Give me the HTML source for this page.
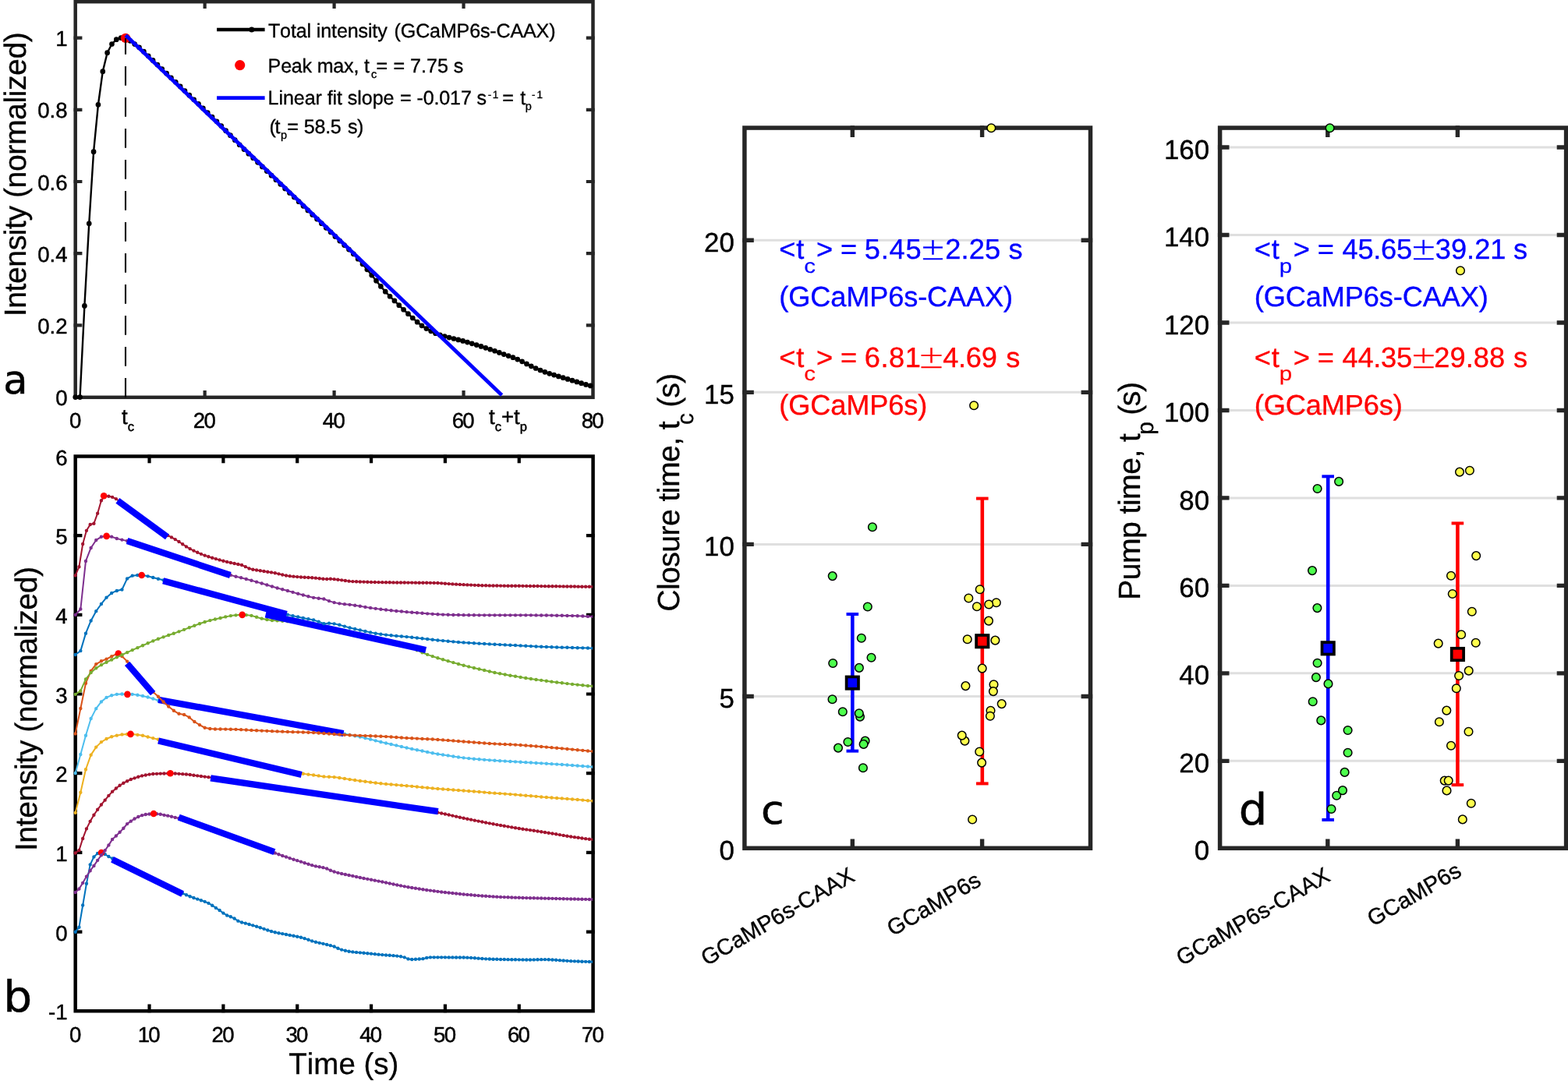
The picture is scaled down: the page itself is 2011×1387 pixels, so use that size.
<!DOCTYPE html>
<html lang="en">
<head>
<meta charset="utf-8">
<title>Intensity traces, closure time and pump time</title>
<style>
html,body{margin:0;padding:0;background:#fff;}
body{width:2011px;height:1387px;overflow:hidden;}
svg{display:block;font-family:'Liberation Sans', Arial, Helvetica, sans-serif;}
text{white-space:pre;font-kerning:none;}
</style>
</head>
<body>
<svg width="2011" height="1387" viewBox="0 0 2011 1387" text-rendering="geometricPrecision">
<rect x="0" y="0" width="2011" height="1387" fill="#fff"/>
<g id="panel-a">
<rect x="96.7" y="2.2" width="663.8" height="507.6" fill="none" stroke="#262626" stroke-width="4.5"/>
<path d="M262.65,509.8v-6.6M262.65,2.2v6.6M428.6,509.8v-6.6M428.6,2.2v6.6M594.55,509.8v-6.6M594.55,2.2v6.6M96.7,417.4h6.6M760.5,417.4h-6.6M96.7,325.2h6.6M760.5,325.2h-6.6M96.7,233h6.6M760.5,233h-6.6M96.7,140.8h6.6M760.5,140.8h-6.6M96.7,48.6h6.6M760.5,48.6h-6.6" fill="none" stroke="#262626" stroke-width="4.2" stroke-linecap="square"/>
<g id="a-data">
<path d="M96.7,509.6 L102.55,509.6 L108.39,392.46 L114.24,286.86 L120.08,194.69 L125.93,134.28 L131.78,91.65 L137.62,67.72 L143.47,56.49 L149.31,50.71 L155.16,48.6 L161.01,48.89 L166.85,52.31 L172.7,56.6 L178.54,60.84 L184.39,66.15 L190.24,71.79 L196.08,77.38 L201.93,82.98 L207.77,88.57 L213.62,94.17 L219.47,99.76 L225.31,105.35 L231.16,110.95 L237,116.54 L242.85,122.14 L248.7,127.73 L254.54,133.33 L260.39,138.92 L266.23,144.52 L272.08,150.11 L277.92,155.73 L283.77,161.57 L289.62,167.63 L295.46,173.68 L301.31,179.72 L307.15,185.75 L313,191.59 L318.85,197.17 L324.69,202.76 L330.54,208.36 L336.38,213.95 L342.23,219.55 L348.08,225.14 L353.92,230.74 L359.77,236.33 L365.61,241.92 L371.46,247.52 L377.31,253.11 L383.15,258.71 L389,264.3 L394.84,269.9 L400.69,275.49 L406.54,281.09 L412.38,286.68 L418.23,292.28 L424.07,297.87 L429.92,303.47 L435.77,309.07 L441.61,314.61 L447.46,320.05 L453.3,325.85 L459.15,332.16 L465,338.79 L470.84,345.86 L476.69,353.05 L482.53,360.21 L488.38,367.39 L494.23,374.17 L500.07,380.25 L505.92,385.95 L511.76,391.64 L517.61,397.26 L523.46,402.68 L529.3,408 L535.15,413.21 L540.99,417.78 L546.84,421.55 L552.69,424.87 L558.53,427.63 L564.38,429.79 L570.22,431.56 L576.07,433.11 L581.92,434.51 L587.76,435.89 L593.61,437.38 L599.45,439.04 L605.3,440.81 L611.14,442.62 L616.99,444.44 L622.84,446.3 L628.68,448.23 L634.53,450.27 L640.37,452.39 L646.22,454.54 L652.07,456.62 L657.91,458.71 L663.76,461.03 L669.6,463.82 L675.45,466.89 L681.3,469.8 L687.14,472.48 L692.99,475.02 L698.83,477.31 L704.68,479.3 L710.53,481.11 L716.37,482.9 L722.22,484.67 L728.06,486.41 L733.91,488.16 L739.76,489.94 L745.6,491.71 L751.45,493.4 L757.29,494.96" fill="none" stroke="#000" stroke-width="2.4" stroke-linejoin="round"/>
<path d="M96.7,509.6h0M102.55,509.6h0M108.39,392.46h0M114.24,286.86h0M120.08,194.69h0M125.93,134.28h0M131.78,91.65h0M137.62,67.72h0M143.47,56.49h0M149.31,50.71h0M155.16,48.6h0M161.01,48.89h0M166.85,52.31h0M172.7,56.6h0M178.54,60.84h0M184.39,66.15h0M190.24,71.79h0M196.08,77.38h0M201.93,82.98h0M207.77,88.57h0M213.62,94.17h0M219.47,99.76h0M225.31,105.35h0M231.16,110.95h0M237,116.54h0M242.85,122.14h0M248.7,127.73h0M254.54,133.33h0M260.39,138.92h0M266.23,144.52h0M272.08,150.11h0M277.92,155.73h0M283.77,161.57h0M289.62,167.63h0M295.46,173.68h0M301.31,179.72h0M307.15,185.75h0M313,191.59h0M318.85,197.17h0M324.69,202.76h0M330.54,208.36h0M336.38,213.95h0M342.23,219.55h0M348.08,225.14h0M353.92,230.74h0M359.77,236.33h0M365.61,241.92h0M371.46,247.52h0M377.31,253.11h0M383.15,258.71h0M389,264.3h0M394.84,269.9h0M400.69,275.49h0M406.54,281.09h0M412.38,286.68h0M418.23,292.28h0M424.07,297.87h0M429.92,303.47h0M435.77,309.07h0M441.61,314.61h0M447.46,320.05h0M453.3,325.85h0M459.15,332.16h0M465,338.79h0M470.84,345.86h0M476.69,353.05h0M482.53,360.21h0M488.38,367.39h0M494.23,374.17h0M500.07,380.25h0M505.92,385.95h0M511.76,391.64h0M517.61,397.26h0M523.46,402.68h0M529.3,408h0M535.15,413.21h0M540.99,417.78h0M546.84,421.55h0M552.69,424.87h0M558.53,427.63h0M564.38,429.79h0M570.22,431.56h0M576.07,433.11h0M581.92,434.51h0M587.76,435.89h0M593.61,437.38h0M599.45,439.04h0M605.3,440.81h0M611.14,442.62h0M616.99,444.44h0M622.84,446.3h0M628.68,448.23h0M634.53,450.27h0M640.37,452.39h0M646.22,454.54h0M652.07,456.62h0M657.91,458.71h0M663.76,461.03h0M669.6,463.82h0M675.45,466.89h0M681.3,469.8h0M687.14,472.48h0M692.99,475.02h0M698.83,477.31h0M704.68,479.3h0M710.53,481.11h0M716.37,482.9h0M722.22,484.67h0M728.06,486.41h0M733.91,488.16h0M739.76,489.94h0M745.6,491.71h0M751.45,493.4h0M757.29,494.96h0" fill="none" stroke="#000" stroke-width="6.7" stroke-linecap="round"/>
<circle cx="161.1" cy="48.9" r="6.25" fill="#f00"/>
<path d="M161,509.7V48.9" fill="none" stroke="#000" stroke-width="2.1" stroke-dasharray="24.7 15.3"/>
<line x1="161.2" y1="45.3" x2="643.6" y2="506.96" stroke="#00f" stroke-width="4.8" stroke-linecap="butt"/>
</g>
<g id="a-ticks" font-size="27.6" stroke="#000" stroke-width="0.45">
<text x="86.6" y="520.2" text-anchor="end">0</text>
<text x="86.6" y="428" text-anchor="end">0.2</text>
<text x="86.6" y="335.8" text-anchor="end">0.4</text>
<text x="86.6" y="243.6" text-anchor="end">0.6</text>
<text x="86.6" y="151.4" text-anchor="end">0.8</text>
<text x="86.6" y="59.2" text-anchor="end">1</text>
<text x="96.7" y="548.8" text-anchor="middle">0</text>
<text x="261.45" y="548.8" text-anchor="middle" letter-spacing="-1.7">20</text>
<text x="427.4" y="548.8" text-anchor="middle" letter-spacing="-1.7">40</text>
<text x="593.35" y="548.8" text-anchor="middle" letter-spacing="-1.7">60</text>
<text x="759.3" y="548.8" text-anchor="middle" letter-spacing="-1.7">80</text>
<text x="156" y="543.8">t<tspan font-size="16.6" dy="8.8">c</tspan></text>
<text x="627" y="543.8">t<tspan font-size="16.6" dy="8.8">c</tspan><tspan dy="-8.8">+t</tspan><tspan font-size="16.6" dy="8.8">p</tspan></text>
</g>
<text transform="translate(33,0) rotate(-90)" font-size="39.3" stroke="#000" stroke-width="0.3"><tspan x="-406.27" letter-spacing="-0.5">Intensity (normalized)</tspan></text>
<g id="a-legend" font-size="25.1" stroke-width="0.35">
<line x1="278.1" y1="38" x2="339.6" y2="38" stroke="#000" stroke-width="4.7" stroke-linecap="butt"/>
<circle cx="322.8" cy="38" r="3.5" fill="#000"/>
<circle cx="307.7" cy="83.6" r="6.6" fill="#f00"/>
<line x1="278.1" y1="125.6" x2="339.6" y2="125.6" stroke="#00f" stroke-width="4.7" stroke-linecap="butt"/>
<text y="48.3" stroke="#000"><tspan x="343.9" letter-spacing="-0.12">Total </tspan><tspan x="405.82" letter-spacing="-0.14">intensity </tspan><tspan x="505.61" letter-spacing="-0.17">(GCaMP6s-CAAX)</tspan></text>
<text y="93.1" stroke="#000"><tspan x="343.62" letter-spacing="-0.22">Peak max, t</tspan><tspan x="475.95" dy="7.3" font-size="14.5">c</tspan><tspan x="482.61" dy="-7.3">= </tspan><tspan x="504.51" letter-spacing="-0.02">= 7.75 s</tspan></text>
<text y="133.7" stroke="#000"><tspan x="343.62" letter-spacing="-0.09">Linear fit slope </tspan><tspan x="513.11" letter-spacing="-0.15">= -0.017 s</tspan><tspan x="625.68" dy="-7.7" letter-spacing="1.63" font-size="13.5">-1 </tspan><tspan x="644.31" dy="7.7">= </tspan><tspan x="667.2">t</tspan><tspan x="673.69" dy="7.3" font-size="14.5">p </tspan><tspan x="681.98" dy="-15" letter-spacing="2.03" font-size="13.5">-1</tspan></text>
<text y="171" stroke="#000"><tspan x="345.61" letter-spacing="-1.35">(t</tspan><tspan x="359.89" dy="7.3" font-size="14.5">p</tspan><tspan x="368.31" dy="-7.3">= </tspan><tspan x="389.81" letter-spacing="-0.28">58.5 </tspan><tspan x="446.1" letter-spacing="-0.67">s)</tspan></text>
</g>
<text transform="translate(4.2,505.4) scale(1.05,0.94)" font-size="54" font-family="'DejaVu Sans Condensed', 'DejaVu Sans', sans-serif" stroke="#000" stroke-width="0.5">a</text>
</g>
<g id="panel-b">
<rect x="96.7" y="585.5" width="663.9" height="711.7" fill="none" stroke="#000" stroke-width="4.5"/>
<path d="M191.54,1297.2v-6.6M191.54,585.5v6.6M286.39,1297.2v-6.6M286.39,585.5v6.6M381.23,1297.2v-6.6M381.23,585.5v6.6M476.07,1297.2v-6.6M476.07,585.5v6.6M570.91,1297.2v-6.6M570.91,585.5v6.6M665.76,1297.2v-6.6M665.76,585.5v6.6M96.7,1195.53h6.6M760.6,1195.53h-6.6M96.7,1093.86h6.6M760.6,1093.86h-6.6M96.7,992.19h6.6M760.6,992.19h-6.6M96.7,890.51h6.6M760.6,890.51h-6.6M96.7,788.84h6.6M760.6,788.84h-6.6M96.7,687.17h6.6M760.6,687.17h-6.6" fill="none" stroke="#000" stroke-width="4.2" stroke-linecap="square"/>
<clipPath id="bclip"><rect x="90" y="580" width="669.9" height="722"/></clipPath>
<g id="b-data" clip-path="url(#bclip)">
<path d="M96.7,1195.78 L101.44,1189.68 L106.18,1161.46 L110.93,1133.77 L115.67,1109.37 L120.41,1099.41 L125.15,1095.06 L129.89,1093.97 L134.64,1096.01 L139.38,1099.05 L144.12,1101.54 L148.86,1104.37 L153.61,1107.31 L158.35,1109.84 L163.09,1112.13 L167.83,1114.43 L172.57,1116.76 L177.32,1119.09 L182.06,1121.43 L186.8,1123.76 L191.54,1126.1 L196.28,1128.43 L201.03,1130.77 L205.77,1133.1 L210.51,1135.44 L215.25,1137.8 L220,1140.17 L224.74,1142.34 L229.48,1144.32 L234.22,1146.24 L238.96,1148.23 L243.71,1150.25 L248.45,1152.05 L253.19,1153.58 L257.93,1155.18 L262.67,1156.86 L267.42,1158.83 L272.16,1161.68 L276.9,1164.9 L281.64,1168.07 L286.39,1171.61 L291.13,1174.5 L295.87,1176.29 L300.61,1178.5 L305.35,1181.65 L310.1,1183.51 L314.84,1184.63 L319.58,1185.93 L324.32,1187.34 L329.06,1188.79 L333.81,1190.26 L338.55,1191.83 L343.29,1193.45 L348.03,1194.96 L352.78,1196.19 L357.52,1197.19 L362.26,1198.09 L367,1198.98 L371.74,1199.9 L376.49,1200.78 L381.23,1201.7 L385.97,1202.77 L390.71,1204.16 L395.45,1205.79 L400.2,1207.4 L404.94,1208.74 L409.68,1209.84 L414.42,1210.86 L419.17,1211.94 L423.91,1213.15 L428.65,1214.56 L433.39,1216.72 L438.13,1218.62 L442.88,1219.81 L447.62,1220.72 L452.36,1221.39 L457.1,1221.91 L461.84,1222.35 L466.59,1222.76 L471.33,1223.19 L476.07,1223.67 L480.81,1224.16 L485.56,1224.64 L490.3,1225.08 L495.04,1225.46 L499.78,1225.8 L504.52,1226.16 L509.27,1226.62 L514.01,1227.28 L518.75,1228.37 L523.49,1230.4 L528.23,1230.93 L532.98,1230.79 L537.72,1230.54 L542.46,1230.17 L547.2,1228.89 L551.95,1228.33 L556.69,1228.33 L561.43,1228.34 L566.17,1228.35 L570.91,1228.37 L575.66,1228.39 L580.4,1228.41 L585.14,1228.44 L589.88,1228.47 L594.62,1228.51 L599.37,1228.65 L604.11,1228.91 L608.85,1229.26 L613.59,1229.64 L618.34,1230.01 L623.08,1230.34 L627.82,1230.56 L632.56,1230.69 L637.3,1230.81 L642.05,1230.93 L646.79,1231.04 L651.53,1231.14 L656.27,1231.23 L661.01,1231.3 L665.76,1231.37 L670.5,1231.42 L675.24,1231.45 L679.98,1231.46 L684.73,1231.42 L689.47,1231.3 L694.21,1231.17 L698.95,1231.11 L703.69,1231.21 L708.44,1231.44 L713.18,1231.76 L717.92,1232.13 L722.66,1232.52 L727.4,1232.87 L732.15,1233.15 L736.89,1233.35 L741.63,1233.54 L746.37,1233.72 L751.12,1233.87 L755.86,1234.01 L760.6,1234.07" fill="none" stroke="#0072bd" stroke-width="2" stroke-linejoin="round"/>
<path d="M96.7,1195.78h0M101.44,1189.68h0M106.18,1161.46h0M110.93,1133.77h0M115.67,1109.37h0M120.41,1099.41h0M125.15,1095.06h0M129.89,1093.97h0M134.64,1096.01h0M139.38,1099.05h0M144.12,1101.54h0M148.86,1104.37h0M153.61,1107.31h0M158.35,1109.84h0M163.09,1112.13h0M167.83,1114.43h0M172.57,1116.76h0M177.32,1119.09h0M182.06,1121.43h0M186.8,1123.76h0M191.54,1126.1h0M196.28,1128.43h0M201.03,1130.77h0M205.77,1133.1h0M210.51,1135.44h0M215.25,1137.8h0M220,1140.17h0M224.74,1142.34h0M229.48,1144.32h0M234.22,1146.24h0M238.96,1148.23h0M243.71,1150.25h0M248.45,1152.05h0M253.19,1153.58h0M257.93,1155.18h0M262.67,1156.86h0M267.42,1158.83h0M272.16,1161.68h0M276.9,1164.9h0M281.64,1168.07h0M286.39,1171.61h0M291.13,1174.5h0M295.87,1176.29h0M300.61,1178.5h0M305.35,1181.65h0M310.1,1183.51h0M314.84,1184.63h0M319.58,1185.93h0M324.32,1187.34h0M329.06,1188.79h0M333.81,1190.26h0M338.55,1191.83h0M343.29,1193.45h0M348.03,1194.96h0M352.78,1196.19h0M357.52,1197.19h0M362.26,1198.09h0M367,1198.98h0M371.74,1199.9h0M376.49,1200.78h0M381.23,1201.7h0M385.97,1202.77h0M390.71,1204.16h0M395.45,1205.79h0M400.2,1207.4h0M404.94,1208.74h0M409.68,1209.84h0M414.42,1210.86h0M419.17,1211.94h0M423.91,1213.15h0M428.65,1214.56h0M433.39,1216.72h0M438.13,1218.62h0M442.88,1219.81h0M447.62,1220.72h0M452.36,1221.39h0M457.1,1221.91h0M461.84,1222.35h0M466.59,1222.76h0M471.33,1223.19h0M476.07,1223.67h0M480.81,1224.16h0M485.56,1224.64h0M490.3,1225.08h0M495.04,1225.46h0M499.78,1225.8h0M504.52,1226.16h0M509.27,1226.62h0M514.01,1227.28h0M518.75,1228.37h0M523.49,1230.4h0M528.23,1230.93h0M532.98,1230.79h0M537.72,1230.54h0M542.46,1230.17h0M547.2,1228.89h0M551.95,1228.33h0M556.69,1228.33h0M561.43,1228.34h0M566.17,1228.35h0M570.91,1228.37h0M575.66,1228.39h0M580.4,1228.41h0M585.14,1228.44h0M589.88,1228.47h0M594.62,1228.51h0M599.37,1228.65h0M604.11,1228.91h0M608.85,1229.26h0M613.59,1229.64h0M618.34,1230.01h0M623.08,1230.34h0M627.82,1230.56h0M632.56,1230.69h0M637.3,1230.81h0M642.05,1230.93h0M646.79,1231.04h0M651.53,1231.14h0M656.27,1231.23h0M661.01,1231.3h0M665.76,1231.37h0M670.5,1231.42h0M675.24,1231.45h0M679.98,1231.46h0M684.73,1231.42h0M689.47,1231.3h0M694.21,1231.17h0M698.95,1231.11h0M703.69,1231.21h0M708.44,1231.44h0M713.18,1231.76h0M717.92,1232.13h0M722.66,1232.52h0M727.4,1232.87h0M732.15,1233.15h0M736.89,1233.35h0M741.63,1233.54h0M746.37,1233.72h0M751.12,1233.87h0M755.86,1234.01h0M760.6,1234.07h0" fill="none" stroke="#0072bd" stroke-width="4.4" stroke-linecap="round"/>
<circle cx="130.03" cy="1093.97" r="4.3" fill="#f00"/>
<line x1="143.95" y1="1102.67" x2="234.11" y2="1147.05" stroke="#00f" stroke-width="8.3" stroke-linecap="butt"/>
<path d="M96.7,1144.91 L101.44,1140.56 L106.18,1132.86 L110.93,1124.58 L115.67,1117.22 L120.41,1110.89 L125.15,1103.85 L129.89,1097.27 L134.64,1091.29 L139.38,1084.39 L144.12,1076.89 L148.86,1072.51 L153.61,1067.81 L158.35,1062.74 L163.09,1057.08 L167.83,1053.67 L172.57,1050.52 L177.32,1048.06 L182.06,1046.16 L186.8,1044.99 L191.54,1044.46 L196.28,1044.04 L201.03,1044.19 L205.77,1044.79 L210.51,1045.84 L215.25,1046.64 L220,1047.68 L224.74,1048.89 L229.48,1050 L234.22,1051.24 L238.96,1052.56 L243.71,1053.99 L248.45,1055.57 L253.19,1057.31 L257.93,1059.09 L262.67,1060.81 L267.42,1062.53 L272.16,1064.24 L276.9,1065.96 L281.64,1067.67 L286.39,1069.39 L291.13,1071.1 L295.87,1072.82 L300.61,1074.53 L305.35,1076.25 L310.1,1077.97 L314.84,1079.68 L319.58,1081.4 L324.32,1083.1 L329.06,1084.77 L333.81,1086.49 L338.55,1088.34 L343.29,1090.4 L348.03,1092.51 L352.78,1094.48 L357.52,1096.26 L362.26,1097.94 L367,1099.56 L371.74,1101.15 L376.49,1102.68 L381.23,1104.17 L385.97,1105.66 L390.71,1107.19 L395.45,1108.72 L400.2,1110.17 L404.94,1111.42 L409.68,1112.28 L414.42,1113.14 L419.17,1114.52 L423.91,1116.77 L428.65,1118.48 L433.39,1119.86 L438.13,1121 L442.88,1122 L447.62,1122.93 L452.36,1123.89 L457.1,1124.94 L461.84,1125.96 L466.59,1126.93 L471.33,1127.86 L476.07,1128.77 L480.81,1129.67 L485.56,1130.59 L490.3,1131.52 L495.04,1132.49 L499.78,1133.48 L504.52,1134.47 L509.27,1135.46 L514.01,1136.41 L518.75,1137.33 L523.49,1138.19 L528.23,1138.99 L532.98,1139.77 L537.72,1140.52 L542.46,1141.25 L547.2,1141.94 L551.95,1142.61 L556.69,1143.24 L561.43,1143.85 L566.17,1144.43 L570.91,1144.99 L575.66,1145.53 L580.4,1146.04 L585.14,1146.53 L589.88,1147.01 L594.62,1147.45 L599.37,1147.89 L604.11,1148.32 L608.85,1148.73 L613.59,1149.12 L618.34,1149.49 L623.08,1149.82 L627.82,1150.12 L632.56,1150.39 L637.3,1150.65 L642.05,1150.88 L646.79,1151.1 L651.53,1151.31 L656.27,1151.49 L661.01,1151.66 L665.76,1151.82 L670.5,1151.95 L675.24,1152.08 L679.98,1152.19 L684.73,1152.3 L689.47,1152.41 L694.21,1152.52 L698.95,1152.63 L703.69,1152.75 L708.44,1152.87 L713.18,1153 L717.92,1153.12 L722.66,1153.24 L727.4,1153.35 L732.15,1153.47 L736.89,1153.57 L741.63,1153.67 L746.37,1153.77 L751.12,1153.87 L755.86,1153.96 L760.6,1154.01" fill="none" stroke="#7e2f8e" stroke-width="2" stroke-linejoin="round"/>
<path d="M96.7,1144.91h0M101.44,1140.56h0M106.18,1132.86h0M110.93,1124.58h0M115.67,1117.22h0M120.41,1110.89h0M125.15,1103.85h0M129.89,1097.27h0M134.64,1091.29h0M139.38,1084.39h0M144.12,1076.89h0M148.86,1072.51h0M153.61,1067.81h0M158.35,1062.74h0M163.09,1057.08h0M167.83,1053.67h0M172.57,1050.52h0M177.32,1048.06h0M182.06,1046.16h0M186.8,1044.99h0M191.54,1044.46h0M196.28,1044.04h0M201.03,1044.19h0M205.77,1044.79h0M210.51,1045.84h0M215.25,1046.64h0M220,1047.68h0M224.74,1048.89h0M229.48,1050h0M234.22,1051.24h0M238.96,1052.56h0M243.71,1053.99h0M248.45,1055.57h0M253.19,1057.31h0M257.93,1059.09h0M262.67,1060.81h0M267.42,1062.53h0M272.16,1064.24h0M276.9,1065.96h0M281.64,1067.67h0M286.39,1069.39h0M291.13,1071.1h0M295.87,1072.82h0M300.61,1074.53h0M305.35,1076.25h0M310.1,1077.97h0M314.84,1079.68h0M319.58,1081.4h0M324.32,1083.1h0M329.06,1084.77h0M333.81,1086.49h0M338.55,1088.34h0M343.29,1090.4h0M348.03,1092.51h0M352.78,1094.48h0M357.52,1096.26h0M362.26,1097.94h0M367,1099.56h0M371.74,1101.15h0M376.49,1102.68h0M381.23,1104.17h0M385.97,1105.66h0M390.71,1107.19h0M395.45,1108.72h0M400.2,1110.17h0M404.94,1111.42h0M409.68,1112.28h0M414.42,1113.14h0M419.17,1114.52h0M423.91,1116.77h0M428.65,1118.48h0M433.39,1119.86h0M438.13,1121h0M442.88,1122h0M447.62,1122.93h0M452.36,1123.89h0M457.1,1124.94h0M461.84,1125.96h0M466.59,1126.93h0M471.33,1127.86h0M476.07,1128.77h0M480.81,1129.67h0M485.56,1130.59h0M490.3,1131.52h0M495.04,1132.49h0M499.78,1133.48h0M504.52,1134.47h0M509.27,1135.46h0M514.01,1136.41h0M518.75,1137.33h0M523.49,1138.19h0M528.23,1138.99h0M532.98,1139.77h0M537.72,1140.52h0M542.46,1141.25h0M547.2,1141.94h0M551.95,1142.61h0M556.69,1143.24h0M561.43,1143.85h0M566.17,1144.43h0M570.91,1144.99h0M575.66,1145.53h0M580.4,1146.04h0M585.14,1146.53h0M589.88,1147.01h0M594.62,1147.45h0M599.37,1147.89h0M604.11,1148.32h0M608.85,1148.73h0M613.59,1149.12h0M618.34,1149.49h0M623.08,1149.82h0M627.82,1150.12h0M632.56,1150.39h0M637.3,1150.65h0M642.05,1150.88h0M646.79,1151.1h0M651.53,1151.31h0M656.27,1151.49h0M661.01,1151.66h0M665.76,1151.82h0M670.5,1151.95h0M675.24,1152.08h0M679.98,1152.19h0M684.73,1152.3h0M689.47,1152.41h0M694.21,1152.52h0M698.95,1152.63h0M703.69,1152.75h0M708.44,1152.87h0M713.18,1153h0M717.92,1153.12h0M722.66,1153.24h0M727.4,1153.35h0M732.15,1153.47h0M736.89,1153.57h0M741.63,1153.67h0M746.37,1153.77h0M751.12,1153.87h0M755.86,1153.96h0M760.6,1154.01h0" fill="none" stroke="#7e2f8e" stroke-width="4.4" stroke-linecap="round"/>
<circle cx="197.04" cy="1044.02" r="4.3" fill="#f00"/>
<line x1="229.23" y1="1048.72" x2="351.93" y2="1093.1" stroke="#00f" stroke-width="8.3" stroke-linecap="butt"/>
<path d="M96.7,1094.49 L101.44,1090.98 L106.18,1075.91 L110.93,1063.33 L115.67,1053.86 L120.41,1045.8 L125.15,1038.8 L129.89,1032.46 L134.64,1026.63 L139.38,1020.87 L144.12,1015.65 L148.86,1011.47 L153.61,1007.82 L158.35,1004.75 L163.09,1002.24 L167.83,1000 L172.57,998.37 L177.32,996.77 L182.06,995.38 L186.8,994.44 L191.54,993.62 L196.28,993.07 L201.03,992.86 L205.77,992.6 L210.51,992.44 L215.25,992.34 L220,992.34 L224.74,992.56 L229.48,992.85 L234.22,993.13 L238.96,993.47 L243.71,994.01 L248.45,994.7 L253.19,995.34 L257.93,995.97 L262.67,996.59 L267.42,997.17 L272.16,997.83 L276.9,998.58 L281.64,999.38 L286.39,1000.22 L291.13,1001.08 L295.87,1001.94 L300.61,1002.77 L305.35,1003.56 L310.1,1004.31 L314.84,1005.03 L319.58,1005.73 L324.32,1006.42 L329.06,1007.1 L333.81,1007.78 L338.55,1008.46 L343.29,1009.15 L348.03,1009.84 L352.78,1010.54 L357.52,1011.24 L362.26,1011.93 L367,1012.63 L371.74,1013.33 L376.49,1014.02 L381.23,1014.72 L385.97,1015.41 L390.71,1016.11 L395.45,1016.81 L400.2,1017.5 L404.94,1018.2 L409.68,1018.89 L414.42,1019.59 L419.17,1020.29 L423.91,1020.98 L428.65,1021.68 L433.39,1022.38 L438.13,1023.07 L442.88,1023.77 L447.62,1024.46 L452.36,1025.16 L457.1,1025.86 L461.84,1026.55 L466.59,1027.25 L471.33,1027.95 L476.07,1028.64 L480.81,1029.34 L485.56,1030.03 L490.3,1030.73 L495.04,1031.41 L499.78,1032.08 L504.52,1032.75 L509.27,1033.43 L514.01,1034.12 L518.75,1034.83 L523.49,1035.57 L528.23,1036.35 L532.98,1037.17 L537.72,1038.01 L542.46,1038.87 L547.2,1039.76 L551.95,1040.68 L556.69,1041.6 L561.43,1042.54 L566.17,1043.51 L570.91,1044.52 L575.66,1045.57 L580.4,1046.62 L585.14,1047.67 L589.88,1048.71 L594.62,1049.71 L599.37,1050.69 L604.11,1051.67 L608.85,1052.64 L613.59,1053.59 L618.34,1054.53 L623.08,1055.45 L627.82,1056.36 L632.56,1057.24 L637.3,1058.11 L642.05,1058.96 L646.79,1059.8 L651.53,1060.62 L656.27,1061.42 L661.01,1062.21 L665.76,1062.98 L670.5,1063.71 L675.24,1064.42 L679.98,1065.11 L684.73,1065.8 L689.47,1066.5 L694.21,1067.2 L698.95,1067.94 L703.69,1068.7 L708.44,1069.5 L713.18,1070.31 L717.92,1071.12 L722.66,1071.92 L727.4,1072.69 L732.15,1073.43 L736.89,1074.14 L741.63,1074.82 L746.37,1075.48 L751.12,1076.13 L755.86,1076.75 L760.6,1077.09" fill="none" stroke="#a2142f" stroke-width="2" stroke-linejoin="round"/>
<path d="M96.7,1094.49h0M101.44,1090.98h0M106.18,1075.91h0M110.93,1063.33h0M115.67,1053.86h0M120.41,1045.8h0M125.15,1038.8h0M129.89,1032.46h0M134.64,1026.63h0M139.38,1020.87h0M144.12,1015.65h0M148.86,1011.47h0M153.61,1007.82h0M158.35,1004.75h0M163.09,1002.24h0M167.83,1000h0M172.57,998.37h0M177.32,996.77h0M182.06,995.38h0M186.8,994.44h0M191.54,993.62h0M196.28,993.07h0M201.03,992.86h0M205.77,992.6h0M210.51,992.44h0M215.25,992.34h0M220,992.34h0M224.74,992.56h0M229.48,992.85h0M234.22,993.13h0M238.96,993.47h0M243.71,994.01h0M248.45,994.7h0M253.19,995.34h0M257.93,995.97h0M262.67,996.59h0M267.42,997.17h0M272.16,997.83h0M276.9,998.58h0M281.64,999.38h0M286.39,1000.22h0M291.13,1001.08h0M295.87,1001.94h0M300.61,1002.77h0M305.35,1003.56h0M310.1,1004.31h0M314.84,1005.03h0M319.58,1005.73h0M324.32,1006.42h0M329.06,1007.1h0M333.81,1007.78h0M338.55,1008.46h0M343.29,1009.15h0M348.03,1009.84h0M352.78,1010.54h0M357.52,1011.24h0M362.26,1011.93h0M367,1012.63h0M371.74,1013.33h0M376.49,1014.02h0M381.23,1014.72h0M385.97,1015.41h0M390.71,1016.11h0M395.45,1016.81h0M400.2,1017.5h0M404.94,1018.2h0M409.68,1018.89h0M414.42,1019.59h0M419.17,1020.29h0M423.91,1020.98h0M428.65,1021.68h0M433.39,1022.38h0M438.13,1023.07h0M442.88,1023.77h0M447.62,1024.46h0M452.36,1025.16h0M457.1,1025.86h0M461.84,1026.55h0M466.59,1027.25h0M471.33,1027.95h0M476.07,1028.64h0M480.81,1029.34h0M485.56,1030.03h0M490.3,1030.73h0M495.04,1031.41h0M499.78,1032.08h0M504.52,1032.75h0M509.27,1033.43h0M514.01,1034.12h0M518.75,1034.83h0M523.49,1035.57h0M528.23,1036.35h0M532.98,1037.17h0M537.72,1038.01h0M542.46,1038.87h0M547.2,1039.76h0M551.95,1040.68h0M556.69,1041.6h0M561.43,1042.54h0M566.17,1043.51h0M570.91,1044.52h0M575.66,1045.57h0M580.4,1046.62h0M585.14,1047.67h0M589.88,1048.71h0M594.62,1049.71h0M599.37,1050.69h0M604.11,1051.67h0M608.85,1052.64h0M613.59,1053.59h0M618.34,1054.53h0M623.08,1055.45h0M627.82,1056.36h0M632.56,1057.24h0M637.3,1058.11h0M642.05,1058.96h0M646.79,1059.8h0M651.53,1060.62h0M656.27,1061.42h0M661.01,1062.21h0M665.76,1062.98h0M670.5,1063.71h0M675.24,1064.42h0M679.98,1065.11h0M684.73,1065.8h0M689.47,1066.5h0M694.21,1067.2h0M698.95,1067.94h0M703.69,1068.7h0M708.44,1069.5h0M713.18,1070.31h0M717.92,1071.12h0M722.66,1071.92h0M727.4,1072.69h0M732.15,1073.43h0M736.89,1074.14h0M741.63,1074.82h0M746.37,1075.48h0M751.12,1076.13h0M755.86,1076.75h0M760.6,1077.09h0" fill="none" stroke="#a2142f" stroke-width="4.4" stroke-linecap="round"/>
<circle cx="218.44" cy="992.32" r="4.3" fill="#f00"/>
<line x1="270.13" y1="998.41" x2="561.84" y2="1041.23" stroke="#00f" stroke-width="8.3" stroke-linecap="butt"/>
<path d="M96.7,1042.83 L103.34,1016.8 L109.98,987.22 L116.62,968.67 L123.26,958.6 L129.89,952.12 L136.53,947.99 L143.17,945.3 L149.81,943.63 L156.45,942.42 L163.09,941.96 L169.73,941.97 L176.37,942.84 L183.01,943.73 L189.65,945.44 L196.28,947.1 L202.92,948.75 L209.56,950.74 L216.2,952.94 L222.84,955.06 L229.48,956.87 L236.12,958.47 L242.76,959.98 L249.4,961.51 L256.04,963.08 L262.67,964.66 L269.31,966.23 L275.95,967.8 L282.59,969.38 L289.23,970.95 L295.87,972.52 L302.51,974.1 L309.15,975.67 L315.79,977.24 L322.43,978.82 L329.06,980.39 L335.7,981.96 L342.34,983.54 L348.98,985.19 L355.62,986.82 L362.26,988.31 L368.9,989.58 L375.54,990.73 L382.18,991.79 L388.82,992.76 L395.45,993.63 L402.09,994.43 L408.73,995.41 L415.37,996.39 L422.01,996.68 L428.65,997.09 L435.29,997.93 L441.93,999 L448.57,1000.11 L455.21,1001.07 L461.84,1001.93 L468.48,1002.8 L475.12,1003.66 L481.76,1004.49 L488.4,1005.24 L495.04,1005.91 L501.68,1006.52 L508.32,1007.1 L514.96,1007.67 L521.6,1008.25 L528.23,1008.86 L534.87,1009.51 L541.51,1010.16 L548.15,1010.81 L554.79,1011.42 L561.43,1011.99 L568.07,1012.51 L574.71,1013 L581.35,1013.48 L587.99,1013.96 L594.62,1014.47 L601.26,1014.99 L607.9,1015.53 L614.54,1016.06 L621.18,1016.6 L627.82,1017.13 L634.46,1017.63 L641.1,1018.12 L647.74,1018.61 L654.38,1019.1 L661.01,1019.61 L667.65,1020.14 L674.29,1020.7 L680.93,1021.28 L687.57,1021.86 L694.21,1022.43 L700.85,1022.96 L707.49,1023.46 L714.13,1023.94 L720.77,1024.42 L727.4,1024.92 L734.04,1025.45 L740.68,1026.01 L747.32,1026.6 L753.96,1027.22 L760.6,1027.65" fill="none" stroke="#edb120" stroke-width="2" stroke-linejoin="round"/>
<path d="M96.7,1042.83h0M103.34,1016.8h0M109.98,987.22h0M116.62,968.67h0M123.26,958.6h0M129.89,952.12h0M136.53,947.99h0M143.17,945.3h0M149.81,943.63h0M156.45,942.42h0M163.09,941.96h0M169.73,941.97h0M176.37,942.84h0M183.01,943.73h0M189.65,945.44h0M196.28,947.1h0M202.92,948.75h0M209.56,950.74h0M216.2,952.94h0M222.84,955.06h0M229.48,956.87h0M236.12,958.47h0M242.76,959.98h0M249.4,961.51h0M256.04,963.08h0M262.67,964.66h0M269.31,966.23h0M275.95,967.8h0M282.59,969.38h0M289.23,970.95h0M295.87,972.52h0M302.51,974.1h0M309.15,975.67h0M315.79,977.24h0M322.43,978.82h0M329.06,980.39h0M335.7,981.96h0M342.34,983.54h0M348.98,985.19h0M355.62,986.82h0M362.26,988.31h0M368.9,989.58h0M375.54,990.73h0M382.18,991.79h0M388.82,992.76h0M395.45,993.63h0M402.09,994.43h0M408.73,995.41h0M415.37,996.39h0M422.01,996.68h0M428.65,997.09h0M435.29,997.93h0M441.93,999h0M448.57,1000.11h0M455.21,1001.07h0M461.84,1001.93h0M468.48,1002.8h0M475.12,1003.66h0M481.76,1004.49h0M488.4,1005.24h0M495.04,1005.91h0M501.68,1006.52h0M508.32,1007.1h0M514.96,1007.67h0M521.6,1008.25h0M528.23,1008.86h0M534.87,1009.51h0M541.51,1010.16h0M548.15,1010.81h0M554.79,1011.42h0M561.43,1011.99h0M568.07,1012.51h0M574.71,1013h0M581.35,1013.48h0M587.99,1013.96h0M594.62,1014.47h0M601.26,1014.99h0M607.9,1015.53h0M614.54,1016.06h0M621.18,1016.6h0M627.82,1017.13h0M634.46,1017.63h0M641.1,1018.12h0M647.74,1018.61h0M654.38,1019.1h0M661.01,1019.61h0M667.65,1020.14h0M674.29,1020.7h0M680.93,1021.28h0M687.57,1021.86h0M694.21,1022.43h0M700.85,1022.96h0M707.49,1023.46h0M714.13,1023.94h0M720.77,1024.42h0M727.4,1024.92h0M734.04,1025.45h0M740.68,1026.01h0M747.32,1026.6h0M753.96,1027.22h0M760.6,1027.65h0" fill="none" stroke="#edb120" stroke-width="4.4" stroke-linecap="round"/>
<circle cx="167.45" cy="941.84" r="4.3" fill="#f00"/>
<line x1="203.13" y1="950.55" x2="386.74" y2="994.06" stroke="#00f" stroke-width="8.3" stroke-linecap="butt"/>
<path d="M96.7,992.01 L103.34,967.94 L109.98,943.71 L116.62,921.96 L123.26,909.14 L129.89,900.38 L136.53,894.91 L143.17,892.22 L149.81,890.87 L156.45,890.51 L163.09,890.85 L169.73,890.85 L176.37,891.78 L183.01,892.92 L189.65,894.49 L196.28,896.57 L202.92,898.81 L209.56,900.09 L216.2,901.04 L222.84,901.85 L229.48,902.7 L236.12,903.76 L242.76,904.93 L249.4,906.16 L256.04,907.41 L262.67,908.64 L269.31,909.85 L275.95,911.05 L282.59,912.26 L289.23,913.47 L295.87,914.67 L302.51,915.88 L309.15,917.09 L315.79,918.29 L322.43,919.5 L329.06,920.71 L335.7,921.92 L342.34,923.12 L348.98,924.33 L355.62,925.54 L362.26,926.74 L368.9,927.95 L375.54,929.16 L382.18,930.36 L388.82,931.56 L395.45,932.76 L402.09,933.96 L408.73,935.18 L415.37,936.43 L422.01,937.71 L428.65,939 L435.29,940.3 L441.93,941.59 L448.57,942.87 L455.21,944.19 L461.84,945.6 L468.48,947.08 L475.12,948.64 L481.76,950.33 L488.4,952 L495.04,953.51 L501.68,954.94 L508.32,956.41 L514.96,957.96 L521.6,959.5 L528.23,960.91 L534.87,962.23 L541.51,963.54 L548.15,964.91 L554.79,966.26 L561.43,967.45 L568.07,968.45 L574.71,969.41 L581.35,970.43 L587.99,971.47 L594.62,972.37 L601.26,973.09 L607.9,973.72 L614.54,974.31 L621.18,974.86 L627.82,975.36 L634.46,975.81 L641.1,976.22 L647.74,976.61 L654.38,976.98 L661.01,977.37 L667.65,977.76 L674.29,978.16 L680.93,978.55 L687.57,978.95 L694.21,979.35 L700.85,979.76 L707.49,980.17 L714.13,980.59 L720.77,981.01 L727.4,981.46 L734.04,981.93 L740.68,982.44 L747.32,982.98 L753.96,983.56 L760.6,983.96" fill="none" stroke="#4dbeee" stroke-width="2" stroke-linejoin="round"/>
<path d="M96.7,992.01h0M103.34,967.94h0M109.98,943.71h0M116.62,921.96h0M123.26,909.14h0M129.89,900.38h0M136.53,894.91h0M143.17,892.22h0M149.81,890.87h0M156.45,890.51h0M163.09,890.85h0M169.73,890.85h0M176.37,891.78h0M183.01,892.92h0M189.65,894.49h0M196.28,896.57h0M202.92,898.81h0M209.56,900.09h0M216.2,901.04h0M222.84,901.85h0M229.48,902.7h0M236.12,903.76h0M242.76,904.93h0M249.4,906.16h0M256.04,907.41h0M262.67,908.64h0M269.31,909.85h0M275.95,911.05h0M282.59,912.26h0M289.23,913.47h0M295.87,914.67h0M302.51,915.88h0M309.15,917.09h0M315.79,918.29h0M322.43,919.5h0M329.06,920.71h0M335.7,921.92h0M342.34,923.12h0M348.98,924.33h0M355.62,925.54h0M362.26,926.74h0M368.9,927.95h0M375.54,929.16h0M382.18,930.36h0M388.82,931.56h0M395.45,932.76h0M402.09,933.96h0M408.73,935.18h0M415.37,936.43h0M422.01,937.71h0M428.65,939h0M435.29,940.3h0M441.93,941.59h0M448.57,942.87h0M455.21,944.19h0M461.84,945.6h0M468.48,947.08h0M475.12,948.64h0M481.76,950.33h0M488.4,952h0M495.04,953.51h0M501.68,954.94h0M508.32,956.41h0M514.96,957.96h0M521.6,959.5h0M528.23,960.91h0M534.87,962.23h0M541.51,963.54h0M548.15,964.91h0M554.79,966.26h0M561.43,967.45h0M568.07,968.45h0M574.71,969.41h0M581.35,970.43h0M587.99,971.47h0M594.62,972.37h0M601.26,973.09h0M607.9,973.72h0M614.54,974.31h0M621.18,974.86h0M627.82,975.36h0M634.46,975.81h0M641.1,976.22h0M647.74,976.61h0M654.38,976.98h0M661.01,977.37h0M667.65,977.76h0M674.29,978.16h0M680.93,978.55h0M687.57,978.95h0M694.21,979.35h0M700.85,979.76h0M707.49,980.17h0M714.13,980.59h0M720.77,981.01h0M727.4,981.46h0M734.04,981.93h0M740.68,982.44h0M747.32,982.98h0M753.96,983.56h0M760.6,983.96h0" fill="none" stroke="#4dbeee" stroke-width="4.4" stroke-linecap="round"/>
<circle cx="163.45" cy="890.85" r="4.3" fill="#f00"/>
<line x1="203.13" y1="897.81" x2="440.54" y2="940.97" stroke="#00f" stroke-width="8.3" stroke-linecap="butt"/>
<path d="M96.7,941.42 L103.34,909.06 L109.98,876.7 L116.62,860.89 L123.26,852.12 L129.89,848.28 L136.53,845.65 L143.17,842.25 L149.81,838.96 L156.45,841.98 L163.09,848.59 L169.73,858.53 L176.37,866.84 L183.01,874.5 L189.65,881.81 L196.28,887.83 L202.92,893.79 L209.56,900.44 L216.2,906.53 L222.84,911.8 L229.48,915.8 L236.12,916.94 L242.76,920.41 L249.4,926.02 L256.04,930.1 L262.67,933.75 L269.31,934.99 L275.95,935.44 L282.59,935.56 L289.23,935.62 L295.87,935.7 L302.51,935.85 L309.15,936.13 L315.79,936.5 L322.43,936.89 L329.06,937.27 L335.7,937.58 L342.34,937.87 L348.98,938.14 L355.62,938.4 L362.26,938.65 L368.9,938.9 L375.54,939.13 L382.18,939.33 L388.82,939.54 L395.45,939.77 L402.09,940.05 L408.73,940.45 L415.37,940.97 L422.01,941.46 L428.65,941.94 L435.29,942.41 L441.93,942.86 L448.57,943.27 L455.21,943.6 L461.84,943.87 L468.48,944.08 L475.12,944.28 L481.76,944.49 L488.4,944.75 L495.04,945.09 L501.68,945.51 L508.32,945.98 L514.96,946.46 L521.6,946.9 L528.23,947.27 L534.87,947.6 L541.51,947.91 L548.15,948.22 L554.79,948.55 L561.43,948.94 L568.07,949.4 L574.71,949.9 L581.35,950.42 L587.99,950.95 L594.62,951.46 L601.26,951.98 L607.9,952.51 L614.54,953.03 L621.18,953.52 L627.82,953.97 L634.46,954.34 L641.1,954.66 L647.74,954.96 L654.38,955.27 L661.01,955.62 L667.65,956.02 L674.29,956.47 L680.93,956.97 L687.57,957.49 L694.21,958.03 L700.85,958.58 L707.49,959.14 L714.13,959.74 L720.77,960.35 L727.4,960.96 L734.04,961.58 L740.68,962.21 L747.32,962.85 L753.96,963.5 L760.6,963.95" fill="none" stroke="#d95319" stroke-width="2" stroke-linejoin="round"/>
<path d="M96.7,941.42h0M103.34,909.06h0M109.98,876.7h0M116.62,860.89h0M123.26,852.12h0M129.89,848.28h0M136.53,845.65h0M143.17,842.25h0M149.81,838.96h0M156.45,841.98h0M163.09,848.59h0M169.73,858.53h0M176.37,866.84h0M183.01,874.5h0M189.65,881.81h0M196.28,887.83h0M202.92,893.79h0M209.56,900.44h0M216.2,906.53h0M222.84,911.8h0M229.48,915.8h0M236.12,916.94h0M242.76,920.41h0M249.4,926.02h0M256.04,930.1h0M262.67,933.75h0M269.31,934.99h0M275.95,935.44h0M282.59,935.56h0M289.23,935.62h0M295.87,935.7h0M302.51,935.85h0M309.15,936.13h0M315.79,936.5h0M322.43,936.89h0M329.06,937.27h0M335.7,937.58h0M342.34,937.87h0M348.98,938.14h0M355.62,938.4h0M362.26,938.65h0M368.9,938.9h0M375.54,939.13h0M382.18,939.33h0M388.82,939.54h0M395.45,939.77h0M402.09,940.05h0M408.73,940.45h0M415.37,940.97h0M422.01,941.46h0M428.65,941.94h0M435.29,942.41h0M441.93,942.86h0M448.57,943.27h0M455.21,943.6h0M461.84,943.87h0M468.48,944.08h0M475.12,944.28h0M481.76,944.49h0M488.4,944.75h0M495.04,945.09h0M501.68,945.51h0M508.32,945.98h0M514.96,946.46h0M521.6,946.9h0M528.23,947.27h0M534.87,947.6h0M541.51,947.91h0M548.15,948.22h0M554.79,948.55h0M561.43,948.94h0M568.07,949.4h0M574.71,949.9h0M581.35,950.42h0M587.99,950.95h0M594.62,951.46h0M601.26,951.98h0M607.9,952.51h0M614.54,953.03h0M621.18,953.52h0M627.82,953.97h0M634.46,954.34h0M641.1,954.66h0M647.74,954.96h0M654.38,955.27h0M661.01,955.62h0M667.65,956.02h0M674.29,956.47h0M680.93,956.97h0M687.57,957.49h0M694.21,958.03h0M700.85,958.58h0M707.49,959.14h0M714.13,959.74h0M720.77,960.35h0M727.4,960.96h0M734.04,961.58h0M740.68,962.21h0M747.32,962.85h0M753.96,963.5h0M760.6,963.95h0" fill="none" stroke="#d95319" stroke-width="4.4" stroke-linecap="round"/>
<circle cx="151.79" cy="838.64" r="4.3" fill="#f00"/>
<line x1="163.1" y1="851.34" x2="196.17" y2="889.63" stroke="#00f" stroke-width="8.3" stroke-linecap="butt"/>
<path d="M96.7,890.85 L103.34,886.4 L109.98,871.42 L116.62,863 L123.26,857.3 L129.89,853.16 L136.53,849.72 L143.17,846.52 L149.81,843.35 L156.45,840.23 L163.09,837.13 L169.73,834.09 L176.37,831.16 L183.01,828.27 L189.65,825.32 L196.28,822.42 L202.92,819.8 L209.56,817.36 L216.2,814.98 L222.84,812.7 L229.48,810.35 L236.12,807.85 L242.76,805.29 L249.4,802.79 L256.04,800.27 L262.67,797.97 L269.31,796.09 L275.95,794.45 L282.59,792.94 L289.23,791.41 L295.87,790.11 L302.51,789.34 L309.15,788.87 L315.79,789.09 L322.43,789.87 L329.06,791.82 L335.7,793.67 L342.34,795.07 L348.98,795.93 L355.62,796.33 L362.26,796.74 L368.9,797.28 L375.54,797.89 L382.18,798.6 L388.82,799.42 L395.45,800.42 L402.09,801.8 L408.73,803.4 L415.37,805.01 L422.01,806.49 L428.65,807.96 L435.29,809.43 L441.93,810.9 L448.57,812.36 L455.21,813.83 L461.84,815.3 L468.48,816.76 L475.12,818.23 L481.76,819.7 L488.4,821.17 L495.04,822.63 L501.68,824.01 L508.32,825.33 L514.96,826.8 L521.6,828.6 L528.23,831.13 L534.87,834.19 L541.51,837.26 L548.15,839.87 L554.79,842.1 L561.43,844.2 L568.07,846.22 L574.71,848.17 L581.35,850.09 L587.99,851.98 L594.62,853.76 L601.26,855.39 L607.9,856.95 L614.54,858.51 L621.18,860.07 L627.82,861.56 L634.46,862.96 L641.1,864.29 L647.74,865.54 L654.38,866.69 L661.01,867.79 L667.65,868.88 L674.29,869.96 L680.93,870.99 L687.57,871.95 L694.21,872.87 L700.85,873.77 L707.49,874.64 L714.13,875.49 L720.77,876.32 L727.4,877.12 L734.04,877.88 L740.68,878.61 L747.32,879.31 L753.96,879.97 L760.6,880.41" fill="none" stroke="#77ac30" stroke-width="2" stroke-linejoin="round"/>
<path d="M96.7,890.85h0M103.34,886.4h0M109.98,871.42h0M116.62,863h0M123.26,857.3h0M129.89,853.16h0M136.53,849.72h0M143.17,846.52h0M149.81,843.35h0M156.45,840.23h0M163.09,837.13h0M169.73,834.09h0M176.37,831.16h0M183.01,828.27h0M189.65,825.32h0M196.28,822.42h0M202.92,819.8h0M209.56,817.36h0M216.2,814.98h0M222.84,812.7h0M229.48,810.35h0M236.12,807.85h0M242.76,805.29h0M249.4,802.79h0M256.04,800.27h0M262.67,797.97h0M269.31,796.09h0M275.95,794.45h0M282.59,792.94h0M289.23,791.41h0M295.87,790.11h0M302.51,789.34h0M309.15,788.87h0M315.79,789.09h0M322.43,789.87h0M329.06,791.82h0M335.7,793.67h0M342.34,795.07h0M348.98,795.93h0M355.62,796.33h0M362.26,796.74h0M368.9,797.28h0M375.54,797.89h0M382.18,798.6h0M388.82,799.42h0M395.45,800.42h0M402.09,801.8h0M408.73,803.4h0M415.37,805.01h0M422.01,806.49h0M428.65,807.96h0M435.29,809.43h0M441.93,810.9h0M448.57,812.36h0M455.21,813.83h0M461.84,815.3h0M468.48,816.76h0M475.12,818.23h0M481.76,819.7h0M488.4,821.17h0M495.04,822.63h0M501.68,824.01h0M508.32,825.33h0M514.96,826.8h0M521.6,828.6h0M528.23,831.13h0M534.87,834.19h0M541.51,837.26h0M548.15,839.87h0M554.79,842.1h0M561.43,844.2h0M568.07,846.22h0M574.71,848.17h0M581.35,850.09h0M587.99,851.98h0M594.62,853.76h0M601.26,855.39h0M607.9,856.95h0M614.54,858.51h0M621.18,860.07h0M627.82,861.56h0M634.46,862.96h0M641.1,864.29h0M647.74,865.54h0M654.38,866.69h0M661.01,867.79h0M667.65,868.88h0M674.29,869.96h0M680.93,870.99h0M687.57,871.95h0M694.21,872.87h0M700.85,873.77h0M707.49,874.64h0M714.13,875.49h0M720.77,876.32h0M727.4,877.12h0M734.04,877.88h0M740.68,878.61h0M747.32,879.31h0M753.96,879.97h0M760.6,880.41h0" fill="none" stroke="#77ac30" stroke-width="4.4" stroke-linecap="round"/>
<circle cx="310.69" cy="788.85" r="4.3" fill="#f00"/>
<line x1="340.62" y1="788.5" x2="546.18" y2="833.94" stroke="#00f" stroke-width="8.3" stroke-linecap="butt"/>
<path d="M96.7,840.03 L103.34,835.1 L109.98,812.64 L116.62,796.47 L123.26,784.17 L129.89,774.99 L136.53,766.67 L143.17,760.95 L149.81,757.94 L156.45,756.47 L163.09,742.41 L169.73,738.63 L176.37,738.03 L183.01,738.09 L189.65,739.34 L196.28,741.02 L202.92,742.68 L209.56,744.33 L216.2,746.38 L222.84,748.67 L229.48,750.81 L236.12,752.66 L242.76,754.4 L249.4,756.16 L256.04,757.95 L262.67,759.73 L269.31,761.52 L275.95,763.31 L282.59,765.09 L289.23,766.88 L295.87,768.67 L302.51,770.46 L309.15,772.24 L315.79,774.03 L322.43,775.82 L329.06,777.61 L335.7,779.38 L342.34,781.16 L348.98,782.98 L355.62,784.91 L362.26,786.85 L368.9,788.61 L375.54,790.14 L382.18,791.56 L388.82,792.92 L395.45,794.17 L402.09,795.53 L408.73,797.67 L415.37,800.15 L422.01,799.66 L428.65,800.36 L435.29,801.78 L441.93,803.59 L448.57,805.45 L455.21,807.04 L461.84,808.48 L468.48,809.95 L475.12,811.38 L481.76,812.68 L488.4,813.76 L495.04,814.59 L501.68,815.29 L508.32,815.9 L514.96,816.5 L521.6,817.12 L528.23,817.81 L534.87,818.55 L541.51,819.31 L548.15,820.06 L554.79,820.78 L561.43,821.45 L568.07,822.1 L574.71,822.74 L581.35,823.34 L587.99,823.9 L594.62,824.41 L601.26,824.86 L607.9,825.28 L614.54,825.66 L621.18,826.04 L627.82,826.4 L634.46,826.75 L641.1,827.09 L647.74,827.42 L654.38,827.74 L661.01,828.06 L667.65,828.4 L674.29,828.75 L680.93,829.11 L687.57,829.45 L694.21,829.76 L700.85,830.02 L707.49,830.25 L714.13,830.45 L720.77,830.63 L727.4,830.81 L734.04,831 L740.68,831.19 L747.32,831.37 L753.96,831.55 L760.6,831.68" fill="none" stroke="#0072bd" stroke-width="2" stroke-linejoin="round"/>
<path d="M96.7,840.03h0M103.34,835.1h0M109.98,812.64h0M116.62,796.47h0M123.26,784.17h0M129.89,774.99h0M136.53,766.67h0M143.17,760.95h0M149.81,757.94h0M156.45,756.47h0M163.09,742.41h0M169.73,738.63h0M176.37,738.03h0M183.01,738.09h0M189.65,739.34h0M196.28,741.02h0M202.92,742.68h0M209.56,744.33h0M216.2,746.38h0M222.84,748.67h0M229.48,750.81h0M236.12,752.66h0M242.76,754.4h0M249.4,756.16h0M256.04,757.95h0M262.67,759.73h0M269.31,761.52h0M275.95,763.31h0M282.59,765.09h0M289.23,766.88h0M295.87,768.67h0M302.51,770.46h0M309.15,772.24h0M315.79,774.03h0M322.43,775.82h0M329.06,777.61h0M335.7,779.38h0M342.34,781.16h0M348.98,782.98h0M355.62,784.91h0M362.26,786.85h0M368.9,788.61h0M375.54,790.14h0M382.18,791.56h0M388.82,792.92h0M395.45,794.17h0M402.09,795.53h0M408.73,797.67h0M415.37,800.15h0M422.01,799.66h0M428.65,800.36h0M435.29,801.78h0M441.93,803.59h0M448.57,805.45h0M455.21,807.04h0M461.84,808.48h0M468.48,809.95h0M475.12,811.38h0M481.76,812.68h0M488.4,813.76h0M495.04,814.59h0M501.68,815.29h0M508.32,815.9h0M514.96,816.5h0M521.6,817.12h0M528.23,817.81h0M534.87,818.55h0M541.51,819.31h0M548.15,820.06h0M554.79,820.78h0M561.43,821.45h0M568.07,822.1h0M574.71,822.74h0M581.35,823.34h0M587.99,823.9h0M594.62,824.41h0M601.26,824.86h0M607.9,825.28h0M614.54,825.66h0M621.18,826.04h0M627.82,826.4h0M634.46,826.75h0M641.1,827.09h0M647.74,827.42h0M654.38,827.74h0M661.01,828.06h0M667.65,828.4h0M674.29,828.75h0M680.93,829.11h0M687.57,829.45h0M694.21,829.76h0M700.85,830.02h0M707.49,830.25h0M714.13,830.45h0M720.77,830.63h0M727.4,830.81h0M734.04,831h0M740.68,831.19h0M747.32,831.37h0M753.96,831.55h0M760.6,831.68h0" fill="none" stroke="#0072bd" stroke-width="4.4" stroke-linecap="round"/>
<circle cx="181.72" cy="738.03" r="4.3" fill="#f00"/>
<line x1="209.22" y1="745.34" x2="367.6" y2="787.98" stroke="#00f" stroke-width="8.3" stroke-linecap="butt"/>
<path d="M96.7,788.85 L103.34,781.49 L109.98,719.91 L116.62,702.93 L123.26,692.96 L129.89,688.81 L136.53,687.91 L143.17,688.64 L149.81,691.02 L156.45,692.62 L163.09,694 L169.73,696.03 L176.37,698.38 L183.01,700.63 L189.65,702.84 L196.28,705.05 L202.92,707.26 L209.56,709.47 L216.2,711.68 L222.84,713.89 L229.48,716.1 L236.12,718.31 L242.76,720.52 L249.4,722.73 L256.04,724.94 L262.67,727.15 L269.31,729.38 L275.95,731.59 L282.59,733.74 L289.23,735.86 L295.87,737.88 L302.51,739.69 L309.15,741.31 L315.79,742.95 L322.43,744.75 L329.06,746.63 L335.7,748.55 L342.34,750.57 L348.98,752.57 L355.62,754.43 L362.26,756.2 L368.9,757.99 L375.54,759.87 L382.18,761.74 L388.82,763.53 L395.45,765.31 L402.09,766.86 L408.73,767.78 L415.37,768.51 L422.01,771.1 L428.65,773.12 L435.29,774.36 L441.93,775.16 L448.57,775.84 L455.21,776.73 L461.84,777.82 L468.48,778.88 L475.12,779.91 L481.76,780.87 L488.4,781.74 L495.04,782.52 L501.68,783.25 L508.32,783.93 L514.96,784.56 L521.6,785.14 L528.23,785.68 L534.87,786.25 L541.51,786.81 L548.15,787.34 L554.79,787.84 L561.43,788.26 L568.07,788.59 L574.71,788.81 L581.35,788.93 L587.99,789.04 L594.62,789.13 L601.26,789.21 L607.9,789.28 L614.54,789.33 L621.18,789.36 L627.82,789.37 L634.46,789.37 L641.1,789.37 L647.74,789.37 L654.38,789.37 L661.01,789.37 L667.65,789.37 L674.29,789.37 L680.93,789.37 L687.57,789.39 L694.21,789.43 L700.85,789.5 L707.49,789.59 L714.13,789.69 L720.77,789.81 L727.4,789.95 L734.04,790.09 L740.68,790.29 L747.32,790.56 L753.96,790.88 L760.6,791.11" fill="none" stroke="#7e2f8e" stroke-width="2" stroke-linejoin="round"/>
<path d="M96.7,788.85h0M103.34,781.49h0M109.98,719.91h0M116.62,702.93h0M123.26,692.96h0M129.89,688.81h0M136.53,687.91h0M143.17,688.64h0M149.81,691.02h0M156.45,692.62h0M163.09,694h0M169.73,696.03h0M176.37,698.38h0M183.01,700.63h0M189.65,702.84h0M196.28,705.05h0M202.92,707.26h0M209.56,709.47h0M216.2,711.68h0M222.84,713.89h0M229.48,716.1h0M236.12,718.31h0M242.76,720.52h0M249.4,722.73h0M256.04,724.94h0M262.67,727.15h0M269.31,729.38h0M275.95,731.59h0M282.59,733.74h0M289.23,735.86h0M295.87,737.88h0M302.51,739.69h0M309.15,741.31h0M315.79,742.95h0M322.43,744.75h0M329.06,746.63h0M335.7,748.55h0M342.34,750.57h0M348.98,752.57h0M355.62,754.43h0M362.26,756.2h0M368.9,757.99h0M375.54,759.87h0M382.18,761.74h0M388.82,763.53h0M395.45,765.31h0M402.09,766.86h0M408.73,767.78h0M415.37,768.51h0M422.01,771.1h0M428.65,773.12h0M435.29,774.36h0M441.93,775.16h0M448.57,775.84h0M455.21,776.73h0M461.84,777.82h0M468.48,778.88h0M475.12,779.91h0M481.76,780.87h0M488.4,781.74h0M495.04,782.52h0M501.68,783.25h0M508.32,783.93h0M514.96,784.56h0M521.6,785.14h0M528.23,785.68h0M534.87,786.25h0M541.51,786.81h0M548.15,787.34h0M554.79,787.84h0M561.43,788.26h0M568.07,788.59h0M574.71,788.81h0M581.35,788.93h0M587.99,789.04h0M594.62,789.13h0M601.26,789.21h0M607.9,789.28h0M614.54,789.33h0M621.18,789.36h0M627.82,789.37h0M634.46,789.37h0M641.1,789.37h0M647.74,789.37h0M654.38,789.37h0M661.01,789.37h0M667.65,789.37h0M674.29,789.37h0M680.93,789.37h0M687.57,789.39h0M694.21,789.43h0M700.85,789.5h0M707.49,789.59h0M714.13,789.69h0M720.77,789.81h0M727.4,789.95h0M734.04,790.09h0M740.68,790.29h0M747.32,790.56h0M753.96,790.88h0M760.6,791.11h0" fill="none" stroke="#7e2f8e" stroke-width="4.4" stroke-linecap="round"/>
<circle cx="136.64" cy="687.91" r="4.3" fill="#f00"/>
<line x1="163.1" y1="694" x2="295.37" y2="738.03" stroke="#00f" stroke-width="8.3" stroke-linecap="butt"/>
<path d="M96.7,738.34 L101.44,727.22 L106.18,697.99 L110.93,680.85 L115.67,673.02 L120.41,671.74 L125.15,658.66 L129.89,642.22 L134.64,636.25 L139.38,636.77 L144.12,637.84 L148.86,640.09 L153.61,643.3 L158.35,647.7 L163.09,651.27 L167.83,654.68 L172.57,658.15 L177.32,661.62 L182.06,665.09 L186.8,668.56 L191.54,672.03 L196.28,675.5 L201.03,679.04 L205.77,682.52 L210.51,685.02 L215.25,687.09 L220,689.42 L224.74,692.12 L229.48,695.02 L234.22,698.23 L238.96,701.4 L243.71,704.13 L248.45,706.6 L253.19,708.8 L257.93,710.83 L262.67,712.66 L267.42,714.28 L272.16,715.75 L276.9,717.11 L281.64,718.42 L286.39,719.69 L291.13,720.9 L295.87,722.04 L300.61,723.07 L305.35,723.93 L310.1,725.04 L314.84,727.15 L319.58,729.4 L324.32,730.69 L329.06,731.55 L333.81,732.31 L338.55,733.04 L343.29,733.7 L348.03,734.39 L352.78,735.23 L357.52,736.34 L362.26,737.51 L367,738.5 L371.74,739.15 L376.49,739.67 L381.23,740.1 L385.97,740.47 L390.71,740.78 L395.45,741.04 L400.2,741.31 L404.94,741.65 L409.68,742.2 L414.42,742.76 L419.17,743.07 L423.91,742.81 L428.65,743.15 L433.39,743.7 L438.13,744.36 L442.88,745.03 L447.62,745.63 L452.36,746.08 L457.1,746.3 L461.84,746.47 L466.59,746.62 L471.33,746.76 L476.07,746.88 L480.81,746.99 L485.56,747.08 L490.3,747.17 L495.04,747.25 L499.78,747.32 L504.52,747.39 L509.27,747.46 L514.01,747.51 L518.75,747.55 L523.49,747.59 L528.23,747.62 L532.98,747.65 L537.72,747.68 L542.46,747.72 L547.2,747.77 L551.95,747.83 L556.69,747.9 L561.43,748.02 L566.17,748.34 L570.91,748.74 L575.66,749.11 L580.4,749.38 L585.14,749.64 L589.88,749.9 L594.62,750.15 L599.37,750.4 L604.11,750.62 L608.85,750.83 L613.59,751.02 L618.34,751.18 L623.08,751.31 L627.82,751.41 L632.56,751.49 L637.3,751.55 L642.05,751.61 L646.79,751.66 L651.53,751.7 L656.27,751.74 L661.01,751.78 L665.76,751.82 L670.5,751.86 L675.24,751.9 L679.98,751.94 L684.73,751.99 L689.47,752.04 L694.21,752.09 L698.95,752.15 L703.69,752.2 L708.44,752.25 L713.18,752.3 L717.92,752.35 L722.66,752.41 L727.4,752.46 L732.15,752.52 L736.89,752.57 L741.63,752.63 L746.37,752.68 L751.12,752.74 L755.86,752.79 L760.6,752.82" fill="none" stroke="#a2142f" stroke-width="2" stroke-linejoin="round"/>
<path d="M96.7,738.34h0M101.44,727.22h0M106.18,697.99h0M110.93,680.85h0M115.67,673.02h0M120.41,671.74h0M125.15,658.66h0M129.89,642.22h0M134.64,636.25h0M139.38,636.77h0M144.12,637.84h0M148.86,640.09h0M153.61,643.3h0M158.35,647.7h0M163.09,651.27h0M167.83,654.68h0M172.57,658.15h0M177.32,661.62h0M182.06,665.09h0M186.8,668.56h0M191.54,672.03h0M196.28,675.5h0M201.03,679.04h0M205.77,682.52h0M210.51,685.02h0M215.25,687.09h0M220,689.42h0M224.74,692.12h0M229.48,695.02h0M234.22,698.23h0M238.96,701.4h0M243.71,704.13h0M248.45,706.6h0M253.19,708.8h0M257.93,710.83h0M262.67,712.66h0M267.42,714.28h0M272.16,715.75h0M276.9,717.11h0M281.64,718.42h0M286.39,719.69h0M291.13,720.9h0M295.87,722.04h0M300.61,723.07h0M305.35,723.93h0M310.1,725.04h0M314.84,727.15h0M319.58,729.4h0M324.32,730.69h0M329.06,731.55h0M333.81,732.31h0M338.55,733.04h0M343.29,733.7h0M348.03,734.39h0M352.78,735.23h0M357.52,736.34h0M362.26,737.51h0M367,738.5h0M371.74,739.15h0M376.49,739.67h0M381.23,740.1h0M385.97,740.47h0M390.71,740.78h0M395.45,741.04h0M400.2,741.31h0M404.94,741.65h0M409.68,742.2h0M414.42,742.76h0M419.17,743.07h0M423.91,742.81h0M428.65,743.15h0M433.39,743.7h0M438.13,744.36h0M442.88,745.03h0M447.62,745.63h0M452.36,746.08h0M457.1,746.3h0M461.84,746.47h0M466.59,746.62h0M471.33,746.76h0M476.07,746.88h0M480.81,746.99h0M485.56,747.08h0M490.3,747.17h0M495.04,747.25h0M499.78,747.32h0M504.52,747.39h0M509.27,747.46h0M514.01,747.51h0M518.75,747.55h0M523.49,747.59h0M528.23,747.62h0M532.98,747.65h0M537.72,747.68h0M542.46,747.72h0M547.2,747.77h0M551.95,747.83h0M556.69,747.9h0M561.43,748.02h0M566.17,748.34h0M570.91,748.74h0M575.66,749.11h0M580.4,749.38h0M585.14,749.64h0M589.88,749.9h0M594.62,750.15h0M599.37,750.4h0M604.11,750.62h0M608.85,750.83h0M613.59,751.02h0M618.34,751.18h0M623.08,751.31h0M627.82,751.41h0M632.56,751.49h0M637.3,751.55h0M642.05,751.61h0M646.79,751.66h0M651.53,751.7h0M656.27,751.74h0M661.01,751.78h0M665.76,751.82h0M670.5,751.86h0M675.24,751.9h0M679.98,751.94h0M684.73,751.99h0M689.47,752.04h0M694.21,752.09h0M698.95,752.15h0M703.69,752.2h0M708.44,752.25h0M713.18,752.3h0M717.92,752.35h0M722.66,752.41h0M727.4,752.46h0M732.15,752.52h0M736.89,752.57h0M741.63,752.63h0M746.37,752.68h0M751.12,752.74h0M755.86,752.79h0M760.6,752.82h0" fill="none" stroke="#a2142f" stroke-width="4.4" stroke-linecap="round"/>
<circle cx="133.16" cy="636.22" r="4.3" fill="#f00"/>
<line x1="150.91" y1="642.31" x2="214.44" y2="688.78" stroke="#00f" stroke-width="8.3" stroke-linecap="butt"/>
</g>
<g id="b-ticks" font-size="27.6" stroke="#000" stroke-width="0.45">
<text x="86.6" y="1308.3" text-anchor="end">-1</text>
<text x="86.6" y="1206.63" text-anchor="end">0</text>
<text x="86.6" y="1104.96" text-anchor="end">1</text>
<text x="86.6" y="1003.29" text-anchor="end">2</text>
<text x="86.6" y="901.61" text-anchor="end">3</text>
<text x="86.6" y="799.94" text-anchor="end">4</text>
<text x="86.6" y="698.27" text-anchor="end">5</text>
<text x="86.6" y="596.6" text-anchor="end">6</text>
<text x="96.7" y="1336.8" text-anchor="middle">0</text>
<text x="190.34" y="1336.8" text-anchor="middle" letter-spacing="-1.7">10</text>
<text x="285.19" y="1336.8" text-anchor="middle" letter-spacing="-1.7">20</text>
<text x="380.03" y="1336.8" text-anchor="middle" letter-spacing="-1.7">30</text>
<text x="474.87" y="1336.8" text-anchor="middle" letter-spacing="-1.7">40</text>
<text x="569.71" y="1336.8" text-anchor="middle" letter-spacing="-1.7">50</text>
<text x="664.56" y="1336.8" text-anchor="middle" letter-spacing="-1.7">60</text>
<text x="759.4" y="1336.8" text-anchor="middle" letter-spacing="-1.7">70</text>
</g>
<text x="370.3" y="1378" font-size="38.5" stroke="#000" stroke-width="0.3">Time (s)</text>
<text transform="translate(47,0) rotate(-90)" font-size="39.3" stroke="#000" stroke-width="0.3"><tspan x="-1092.07" letter-spacing="-0.5">Intensity (normalized)</tspan></text>
<text transform="translate(4.2,1297.6) scale(1.03,0.98)" font-size="56.5" font-family="'DejaVu Sans', sans-serif" stroke="#000" stroke-width="0.5">b</text>
</g>
<g id="panel-c">
<line x1="954.9" y1="893.45" x2="1398.5" y2="893.45" stroke="#dfdfdf" stroke-width="3" stroke-linecap="butt"/>
<line x1="954.9" y1="698.4" x2="1398.5" y2="698.4" stroke="#dfdfdf" stroke-width="3" stroke-linecap="butt"/>
<line x1="954.9" y1="503.35" x2="1398.5" y2="503.35" stroke="#dfdfdf" stroke-width="3" stroke-linecap="butt"/>
<line x1="954.9" y1="308.3" x2="1398.5" y2="308.3" stroke="#dfdfdf" stroke-width="3" stroke-linecap="butt"/>
<line x1="1093.3" y1="788" x2="1093.3" y2="963.6" stroke="#00f" stroke-width="4.6" stroke-linecap="butt"/>
<line x1="1085.5" y1="788" x2="1101.1" y2="788" stroke="#00f" stroke-width="4" stroke-linecap="butt"/>
<line x1="1085.5" y1="963.6" x2="1101.1" y2="963.6" stroke="#00f" stroke-width="4" stroke-linecap="butt"/>
<line x1="1259.8" y1="639.6" x2="1259.8" y2="1005.4" stroke="#f00" stroke-width="4.6" stroke-linecap="butt"/>
<line x1="1252" y1="639.6" x2="1267.6" y2="639.6" stroke="#f00" stroke-width="4" stroke-linecap="butt"/>
<line x1="1252" y1="1005.4" x2="1267.6" y2="1005.4" stroke="#f00" stroke-width="4" stroke-linecap="butt"/>
<rect x="954.9" y="164.05" width="443.6" height="924.25" fill="none" stroke="#262626" stroke-width="5.5"/>
<path d="M1093.3,1088.3v-9.2M1093.3,164.05v9.2M1259.6,1088.3v-9.2M1259.6,164.05v9.2M954.9,893.45h9.2M1398.5,893.45h-9.2M954.9,698.4h9.2M1398.5,698.4h-9.2M954.9,503.35h9.2M1398.5,503.35h-9.2M954.9,308.3h9.2M1398.5,308.3h-9.2" fill="none" stroke="#262626" stroke-width="5.4" stroke-linecap="square"/>
<circle cx="1118.9" cy="676.3" r="5.3" fill="#4dff4d" stroke="#000" stroke-width="1.5"/>
<circle cx="1067.7" cy="739.1" r="5.3" fill="#4dff4d" stroke="#000" stroke-width="1.5"/>
<circle cx="1112.8" cy="778.5" r="5.3" fill="#4dff4d" stroke="#000" stroke-width="1.5"/>
<circle cx="1104.8" cy="818.8" r="5.3" fill="#4dff4d" stroke="#000" stroke-width="1.5"/>
<circle cx="1117.5" cy="843.7" r="5.3" fill="#4dff4d" stroke="#000" stroke-width="1.5"/>
<circle cx="1068.2" cy="851" r="5.3" fill="#4dff4d" stroke="#000" stroke-width="1.5"/>
<circle cx="1101.9" cy="856.9" r="5.3" fill="#4dff4d" stroke="#000" stroke-width="1.5"/>
<circle cx="1067.5" cy="897.3" r="5.3" fill="#4dff4d" stroke="#000" stroke-width="1.5"/>
<circle cx="1080.8" cy="913.3" r="5.3" fill="#4dff4d" stroke="#000" stroke-width="1.5"/>
<circle cx="1103" cy="919.6" r="5.3" fill="#4dff4d" stroke="#000" stroke-width="1.5"/>
<circle cx="1101.8" cy="915.3" r="5.3" fill="#4dff4d" stroke="#000" stroke-width="1.5"/>
<circle cx="1109.6" cy="950.6" r="5.3" fill="#4dff4d" stroke="#000" stroke-width="1.5"/>
<circle cx="1107.6" cy="954.9" r="5.3" fill="#4dff4d" stroke="#000" stroke-width="1.5"/>
<circle cx="1087.4" cy="952" r="5.3" fill="#4dff4d" stroke="#000" stroke-width="1.5"/>
<circle cx="1075" cy="959.6" r="5.3" fill="#4dff4d" stroke="#000" stroke-width="1.5"/>
<circle cx="1106.9" cy="985.2" r="5.3" fill="#4dff4d" stroke="#000" stroke-width="1.5"/>
<circle cx="1271.3" cy="164.2" r="5.3" fill="#ffff4d" stroke="#000" stroke-width="1.5"/>
<circle cx="1249.1" cy="520.2" r="5.3" fill="#ffff4d" stroke="#000" stroke-width="1.5"/>
<circle cx="1256.7" cy="756.2" r="5.3" fill="#ffff4d" stroke="#000" stroke-width="1.5"/>
<circle cx="1242.3" cy="767.5" r="5.3" fill="#ffff4d" stroke="#000" stroke-width="1.5"/>
<circle cx="1277.8" cy="773.2" r="5.3" fill="#ffff4d" stroke="#000" stroke-width="1.5"/>
<circle cx="1268.2" cy="775.5" r="5.3" fill="#ffff4d" stroke="#000" stroke-width="1.5"/>
<circle cx="1252.9" cy="778.3" r="5.3" fill="#ffff4d" stroke="#000" stroke-width="1.5"/>
<circle cx="1268" cy="796.6" r="5.3" fill="#ffff4d" stroke="#000" stroke-width="1.5"/>
<circle cx="1240.7" cy="820.2" r="5.3" fill="#ffff4d" stroke="#000" stroke-width="1.5"/>
<circle cx="1276.4" cy="821.6" r="5.3" fill="#ffff4d" stroke="#000" stroke-width="1.5"/>
<circle cx="1259.7" cy="857.6" r="5.3" fill="#ffff4d" stroke="#000" stroke-width="1.5"/>
<circle cx="1238.4" cy="880.1" r="5.3" fill="#ffff4d" stroke="#000" stroke-width="1.5"/>
<circle cx="1274.5" cy="878.2" r="5.3" fill="#ffff4d" stroke="#000" stroke-width="1.5"/>
<circle cx="1273.9" cy="887.1" r="5.3" fill="#ffff4d" stroke="#000" stroke-width="1.5"/>
<circle cx="1284.7" cy="903.1" r="5.3" fill="#ffff4d" stroke="#000" stroke-width="1.5"/>
<circle cx="1270.5" cy="911.8" r="5.3" fill="#ffff4d" stroke="#000" stroke-width="1.5"/>
<circle cx="1269.9" cy="918.7" r="5.3" fill="#ffff4d" stroke="#000" stroke-width="1.5"/>
<circle cx="1237.4" cy="950.6" r="5.3" fill="#ffff4d" stroke="#000" stroke-width="1.5"/>
<circle cx="1233.7" cy="943.6" r="5.3" fill="#ffff4d" stroke="#000" stroke-width="1.5"/>
<circle cx="1256.2" cy="964.5" r="5.3" fill="#ffff4d" stroke="#000" stroke-width="1.5"/>
<circle cx="1259.1" cy="978.6" r="5.3" fill="#ffff4d" stroke="#000" stroke-width="1.5"/>
<circle cx="1247.1" cy="1051.5" r="5.3" fill="#ffff4d" stroke="#000" stroke-width="1.5"/>
<rect x="1085.6" y="868.4" width="15.4" height="15.4" fill="#00f" stroke="#000" stroke-width="3.7"/>
<rect x="1252.1" y="815" width="15.4" height="15.4" fill="#f00" stroke="#000" stroke-width="3.7"/>
<g font-size="34.8" stroke="#000" stroke-width="0.4">
<text x="941.8" y="1103" text-anchor="end">0</text>
<text x="941.8" y="908.05" text-anchor="end">5</text>
<text x="941.8" y="713" text-anchor="end">10</text>
<text x="941.8" y="517.95" text-anchor="end">15</text>
<text x="941.8" y="322.9" text-anchor="end">20</text>
</g>
<g font-size="28.9" stroke="#000" stroke-width="0.4">
<text transform="translate(1098,1129) rotate(-30)" text-anchor="end">GCaMP6s-CAAX</text>
<text transform="translate(1260.1,1135) rotate(-30)" text-anchor="end">GCaMP6s</text>
</g>
<text transform="translate(870.8,0) rotate(-90)" font-size="39.3" stroke="#000" stroke-width="0.3"><tspan x="-784.74" letter-spacing="-0.63">Closure time, t</tspan><tspan x="-544.94" dy="17.8" font-size="30">c </tspan><tspan x="-522.74" dy="-17.8" letter-spacing="-1.02">(s)</tspan></text>
<g font-size="36.2" fill="#00f" stroke="#00f" stroke-width="0.35">
<text y="332.3"><tspan x="999.3">&lt;</tspan><tspan x="1021.3">t</tspan><tspan x="1031.38" dy="17.2" font-size="25.8" textLength="14.71" lengthAdjust="spacingAndGlyphs" stroke-width="0.18">c</tspan><tspan x="1046.9" dy="-17.2">&gt; </tspan><tspan x="1078.1">= </tspan><tspan x="1108.87" letter-spacing="0.78">5.45</tspan><tspan x="1180.08" dy="0.9" font-size="39.3" font-family="'DejaVu Sans Light', 'DejaVu Sans', sans-serif" stroke-width="0.5">±</tspan><tspan x="1212.3" dy="-0.9" letter-spacing="0.1">2.25 </tspan><tspan x="1293.43">s</tspan></text>
<text y="393.3"><tspan x="999.3" letter-spacing="-0.14">(GCaMP6s-CAAX)</tspan></text>
</g>
<g font-size="36.2" fill="#f00" stroke="#f00" stroke-width="0.35">
<text y="471.1"><tspan x="999.3">&lt;</tspan><tspan x="1021.3">t</tspan><tspan x="1031.38" dy="17.2" font-size="25.8" textLength="14.71" lengthAdjust="spacingAndGlyphs" stroke-width="0.18">c</tspan><tspan x="1046.9" dy="-17.2">&gt; </tspan><tspan x="1078.1">= </tspan><tspan x="1108.7" letter-spacing="0.57">6.81</tspan><tspan x="1177.44" dy="0.9" font-size="40.59" font-family="'DejaVu Sans Light', 'DejaVu Sans', sans-serif" stroke-width="0.5">±</tspan><tspan x="1209.23" dy="-0.9" letter-spacing="-0.27">4.69 </tspan><tspan x="1290.33">s</tspan></text>
<text y="531.7"><tspan x="999.3" letter-spacing="-0.14">(GCaMP6s)</tspan></text>
</g>
<text transform="translate(976,1057.4) scale(1,0.94)" font-size="54" font-family="'DejaVu Sans', sans-serif" stroke="#000" stroke-width="0.5">c</text>
</g>
<g id="panel-d">
<line x1="1564.6" y1="976.33" x2="2008.6" y2="976.33" stroke="#dfdfdf" stroke-width="3" stroke-linecap="butt"/>
<line x1="1564.6" y1="863.86" x2="2008.6" y2="863.86" stroke="#dfdfdf" stroke-width="3" stroke-linecap="butt"/>
<line x1="1564.6" y1="751.38" x2="2008.6" y2="751.38" stroke="#dfdfdf" stroke-width="3" stroke-linecap="butt"/>
<line x1="1564.6" y1="638.91" x2="2008.6" y2="638.91" stroke="#dfdfdf" stroke-width="3" stroke-linecap="butt"/>
<line x1="1564.6" y1="526.44" x2="2008.6" y2="526.44" stroke="#dfdfdf" stroke-width="3" stroke-linecap="butt"/>
<line x1="1564.6" y1="413.97" x2="2008.6" y2="413.97" stroke="#dfdfdf" stroke-width="3" stroke-linecap="butt"/>
<line x1="1564.6" y1="301.5" x2="2008.6" y2="301.5" stroke="#dfdfdf" stroke-width="3" stroke-linecap="butt"/>
<line x1="1564.6" y1="189.02" x2="2008.6" y2="189.02" stroke="#dfdfdf" stroke-width="3" stroke-linecap="butt"/>
<line x1="1703.2" y1="611.3" x2="1703.2" y2="1051.9" stroke="#00f" stroke-width="4.6" stroke-linecap="butt"/>
<line x1="1695.4" y1="611.3" x2="1711" y2="611.3" stroke="#00f" stroke-width="4" stroke-linecap="butt"/>
<line x1="1695.4" y1="1051.9" x2="1711" y2="1051.9" stroke="#00f" stroke-width="4" stroke-linecap="butt"/>
<line x1="1869.4" y1="671.4" x2="1869.4" y2="1007.1" stroke="#f00" stroke-width="4.6" stroke-linecap="butt"/>
<line x1="1861.6" y1="671.4" x2="1877.2" y2="671.4" stroke="#f00" stroke-width="4" stroke-linecap="butt"/>
<line x1="1861.6" y1="1007.1" x2="1877.2" y2="1007.1" stroke="#f00" stroke-width="4" stroke-linecap="butt"/>
<rect x="1564.6" y="164.05" width="444" height="924.25" fill="none" stroke="#262626" stroke-width="5.5"/>
<path d="M1702.8,1088.3v-9.2M1702.8,164.05v9.2M1869.4,1088.3v-9.2M1869.4,164.05v9.2M1564.6,976.33h9.2M2008.6,976.33h-9.2M1564.6,863.86h9.2M2008.6,863.86h-9.2M1564.6,751.38h9.2M2008.6,751.38h-9.2M1564.6,638.91h9.2M2008.6,638.91h-9.2M1564.6,526.44h9.2M2008.6,526.44h-9.2M1564.6,413.97h9.2M2008.6,413.97h-9.2M1564.6,301.5h9.2M2008.6,301.5h-9.2M1564.6,189.02h9.2M2008.6,189.02h-9.2" fill="none" stroke="#262626" stroke-width="5.4" stroke-linecap="square"/>
<circle cx="1705.6" cy="164.2" r="5.3" fill="#4dff4d" stroke="#000" stroke-width="1.5"/>
<circle cx="1717.1" cy="617.9" r="5.3" fill="#4dff4d" stroke="#000" stroke-width="1.5"/>
<circle cx="1689.6" cy="627" r="5.3" fill="#4dff4d" stroke="#000" stroke-width="1.5"/>
<circle cx="1683" cy="732.1" r="5.3" fill="#4dff4d" stroke="#000" stroke-width="1.5"/>
<circle cx="1689.4" cy="780.1" r="5.3" fill="#4dff4d" stroke="#000" stroke-width="1.5"/>
<circle cx="1689.6" cy="850.8" r="5.3" fill="#4dff4d" stroke="#000" stroke-width="1.5"/>
<circle cx="1687.9" cy="869.1" r="5.3" fill="#4dff4d" stroke="#000" stroke-width="1.5"/>
<circle cx="1703.5" cy="877.4" r="5.3" fill="#4dff4d" stroke="#000" stroke-width="1.5"/>
<circle cx="1683.7" cy="900.2" r="5.3" fill="#4dff4d" stroke="#000" stroke-width="1.5"/>
<circle cx="1694.3" cy="924.4" r="5.3" fill="#4dff4d" stroke="#000" stroke-width="1.5"/>
<circle cx="1728.6" cy="937" r="5.3" fill="#4dff4d" stroke="#000" stroke-width="1.5"/>
<circle cx="1728.6" cy="965.7" r="5.3" fill="#4dff4d" stroke="#000" stroke-width="1.5"/>
<circle cx="1724.6" cy="990.9" r="5.3" fill="#4dff4d" stroke="#000" stroke-width="1.5"/>
<circle cx="1714.2" cy="1020.7" r="5.3" fill="#4dff4d" stroke="#000" stroke-width="1.5"/>
<circle cx="1722" cy="1014.1" r="5.3" fill="#4dff4d" stroke="#000" stroke-width="1.5"/>
<circle cx="1707.5" cy="1038" r="5.3" fill="#4dff4d" stroke="#000" stroke-width="1.5"/>
<circle cx="1873" cy="347.2" r="5.3" fill="#ffff4d" stroke="#000" stroke-width="1.5"/>
<circle cx="1872" cy="605.6" r="5.3" fill="#ffff4d" stroke="#000" stroke-width="1.5"/>
<circle cx="1884.9" cy="603.7" r="5.3" fill="#ffff4d" stroke="#000" stroke-width="1.5"/>
<circle cx="1893.2" cy="713.1" r="5.3" fill="#ffff4d" stroke="#000" stroke-width="1.5"/>
<circle cx="1861" cy="738.7" r="5.3" fill="#ffff4d" stroke="#000" stroke-width="1.5"/>
<circle cx="1862.8" cy="762" r="5.3" fill="#ffff4d" stroke="#000" stroke-width="1.5"/>
<circle cx="1887.8" cy="784.7" r="5.3" fill="#ffff4d" stroke="#000" stroke-width="1.5"/>
<circle cx="1874.1" cy="814.2" r="5.3" fill="#ffff4d" stroke="#000" stroke-width="1.5"/>
<circle cx="1844.7" cy="825.6" r="5.3" fill="#ffff4d" stroke="#000" stroke-width="1.5"/>
<circle cx="1892.7" cy="824.7" r="5.3" fill="#ffff4d" stroke="#000" stroke-width="1.5"/>
<circle cx="1883.7" cy="860.6" r="5.3" fill="#ffff4d" stroke="#000" stroke-width="1.5"/>
<circle cx="1871.1" cy="867" r="5.3" fill="#ffff4d" stroke="#000" stroke-width="1.5"/>
<circle cx="1867.8" cy="883.2" r="5.3" fill="#ffff4d" stroke="#000" stroke-width="1.5"/>
<circle cx="1855.3" cy="911.6" r="5.3" fill="#ffff4d" stroke="#000" stroke-width="1.5"/>
<circle cx="1845.9" cy="926.2" r="5.3" fill="#ffff4d" stroke="#000" stroke-width="1.5"/>
<circle cx="1883.5" cy="938.7" r="5.3" fill="#ffff4d" stroke="#000" stroke-width="1.5"/>
<circle cx="1861" cy="956.8" r="5.3" fill="#ffff4d" stroke="#000" stroke-width="1.5"/>
<circle cx="1852.7" cy="1001.6" r="5.3" fill="#ffff4d" stroke="#000" stroke-width="1.5"/>
<circle cx="1857.7" cy="1001.6" r="5.3" fill="#ffff4d" stroke="#000" stroke-width="1.5"/>
<circle cx="1855.5" cy="1014.4" r="5.3" fill="#ffff4d" stroke="#000" stroke-width="1.5"/>
<circle cx="1886.8" cy="1030.8" r="5.3" fill="#ffff4d" stroke="#000" stroke-width="1.5"/>
<circle cx="1875.8" cy="1051.4" r="5.3" fill="#ffff4d" stroke="#000" stroke-width="1.5"/>
<rect x="1695.5" y="824.1" width="15.4" height="15.4" fill="#00f" stroke="#000" stroke-width="3.7"/>
<rect x="1861.7" y="831.8" width="15.4" height="15.4" fill="#f00" stroke="#000" stroke-width="3.7"/>
<g font-size="34.8" stroke="#000" stroke-width="0.4">
<text x="1551" y="1103" text-anchor="end">0</text>
<text x="1551" y="990.93" text-anchor="end">20</text>
<text x="1551" y="878.46" text-anchor="end">40</text>
<text x="1551" y="765.98" text-anchor="end">60</text>
<text x="1551" y="653.51" text-anchor="end">80</text>
<text x="1551" y="541.04" text-anchor="end">100</text>
<text x="1551" y="428.57" text-anchor="end">120</text>
<text x="1551" y="316.1" text-anchor="end">140</text>
<text x="1551" y="203.62" text-anchor="end">160</text>
</g>
<g font-size="28.9" stroke="#000" stroke-width="0.4">
<text transform="translate(1707.6,1129) rotate(-30)" text-anchor="end">GCaMP6s-CAAX</text>
<text transform="translate(1876.2,1122.7) rotate(-30)" text-anchor="end">GCaMP6s</text>
</g>
<text transform="translate(1461.6,0) rotate(-90)" font-size="39.3" stroke="#000" stroke-width="0.3"><tspan x="-769.97" letter-spacing="-0.6">Pump time, t</tspan><tspan x="-557.77" dy="17.5" font-size="30">p </tspan><tspan x="-532.74" dy="-17.5" letter-spacing="-1.52">(s)</tspan></text>
<g font-size="36.2" fill="#00f" stroke="#00f" stroke-width="0.35">
<text y="332.3"><tspan x="1608.8">&lt;</tspan><tspan x="1630.8">t</tspan><tspan x="1640.76" dy="17.2" font-size="25.8" textLength="16.36" lengthAdjust="spacingAndGlyphs" stroke-width="0.18">p</tspan><tspan x="1658.8" dy="-17.2">&gt; </tspan><tspan x="1689.8">= </tspan><tspan x="1721.53" letter-spacing="-0.26">45.65</tspan><tspan x="1808.99" dy="0.9" font-size="40.1" font-family="'DejaVu Sans Light', 'DejaVu Sans', sans-serif" stroke-width="0.5">±</tspan><tspan x="1840.87" dy="-0.9" letter-spacing="0">39.21 </tspan><tspan x="1941.03">s</tspan></text>
<text y="393.3"><tspan x="1608.8" letter-spacing="-0.13">(GCaMP6s-CAAX)</tspan></text>
</g>
<g font-size="36.2" fill="#f00" stroke="#f00" stroke-width="0.35">
<text y="471.1"><tspan x="1608.8">&lt;</tspan><tspan x="1630.8">t</tspan><tspan x="1640.76" dy="17.2" font-size="25.8" textLength="16.36" lengthAdjust="spacingAndGlyphs" stroke-width="0.18">p</tspan><tspan x="1658.8" dy="-17.2">&gt; </tspan><tspan x="1689.8">= </tspan><tspan x="1721.53" letter-spacing="-0.26">44.35</tspan><tspan x="1808.99" dy="0.9" font-size="40.1" font-family="'DejaVu Sans Light', 'DejaVu Sans', sans-serif" stroke-width="0.5">±</tspan><tspan x="1839.3" dy="-0.9" letter-spacing="0.09">29.88 </tspan><tspan x="1941.03">s</tspan></text>
<text y="531.7"><tspan x="1608.8" letter-spacing="-0.13">(GCaMP6s)</tspan></text>
</g>
<text transform="translate(1588.8,1057.6) scale(1.02,0.985)" font-size="56.5" font-family="'DejaVu Sans', sans-serif" stroke="#000" stroke-width="0.5">d</text>
</g>
</svg>
</body>
</html>
